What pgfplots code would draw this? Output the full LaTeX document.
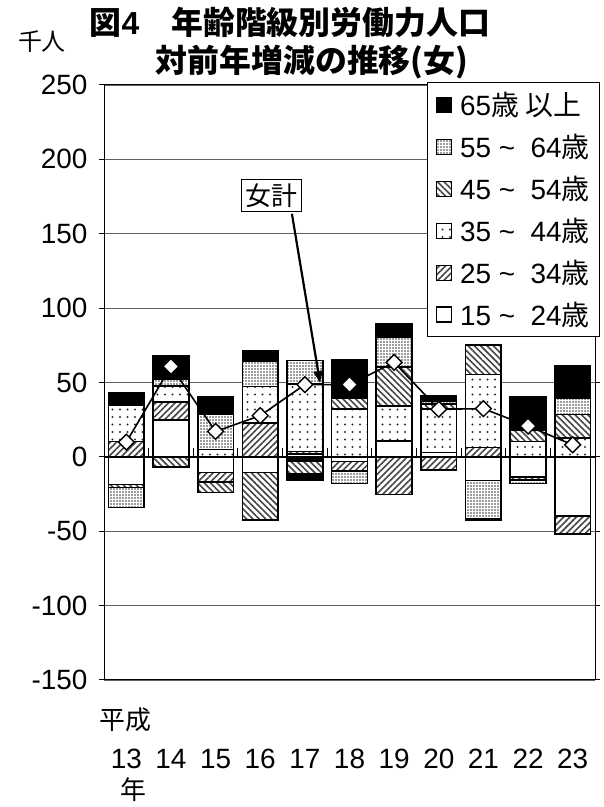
\documentclass[border=0pt]{standalone}
\usepackage{fontspec}
\setmainfont{Liberation Sans}
\newfontfamily\jp{Noto Sans CJK JP}
\usepackage{pgfplots}
\pgfplotsset{compat=1.18}
\usetikzlibrary{patterns.meta,arrows.meta}

% segments above zero, thousand persons (women)
\pgfplotstableread{
x   a1524 a2534 a3544 a4554 a5564 a65
13  0     10.4  24.3  0     0     8.6
14  24.8  11.9  10.8  0     4.5   16.0
15  0     0     5.0   0     23.4  11.7
16  0     22.7  24.6  0     17.1  7.2
17  2.0   1.5   45.3  0     16.1  0
18  0     0     32.0  7.4   0     25.7
19  10.8  0     23.4  26.1  20.3  9.0
20  2.9   0     29.1  3.4   2.2   3.5
21  0     6.3   49.1  19.8  0     0
22  0     0     10.4  7.7   0     22.1
23  0     0     12.6  15.8  10.8  21.8
}\postab
% segments below zero
\pgfplotstableread{
x   b1524 b2534 b3544 b4554 b5564 b65
13  -18.5 0     0     -2.0  -13.5 0
14  0     0     0     -6.8  0     0
15  -10.4 -6.3  0     -7.2  0     0
16  -10.4 0     0     -31.9 0     0
17  -1.3  -1.4  0     -8.5  0     -4.5
18  -3.2  -6.2  0     0     -8.5  0
19  0     -25.2 0     0     0     0
20  0     -8.9  0     0     0     0
21  -15.8 0     0     0     -25.7 -1.4
22  -13.5 -2.0  0     0     -2.5  0
23  -39.9 -11.9 0     0     0     0
}\negtab
% total change (women)
\pgfplotstableread{
x   total
13  9.9
14  60.8
15  17.1
16  27.7
17  48.6
18  48.6
19  63.5
20  32.0
21  32.4
22  20.7
23  8.1
}\tottab

\tikzset{
  s1524/.style={fill=white, draw=black, line width=1.6bp},
  s2534/.style={fill=white, draw=black, line width=1.6bp, postaction={pattern={Lines[angle=45,distance=4.5bp,line width=1.6bp]}, pattern color=gray!55!black}},
  s3544/.style={fill=white, draw=black, line width=1.6bp, postaction={pattern={Dots[distance=7.5bp,radius=1.1bp]}, pattern color=gray!40!black}},
  s4554/.style={fill=white, draw=black, line width=1.6bp, postaction={pattern={Lines[angle=-45,distance=4.5bp,line width=1.6bp]}, pattern color=gray!55!black}},
  s5564/.style={fill=white, draw=black, line width=1.6bp, postaction={pattern={Dots[distance=3bp,radius=0.95bp]}, pattern color=gray!45!black}},
  s65/.style={fill=black, draw=black, line width=1.6bp},
}

\pgfplotsset{
  common/.style={
    at={(104bp,127bp)}, anchor=south west,
    width=491bp, height=595bp, scale only axis,
    xmin=12.5, xmax=23.5, ymin=-150, ymax=250,
  },
}

\begin{document}
\begin{tikzpicture}[x=1bp,y=1bp]
\useasboundingbox (0,0) rectangle (604,807);

% axis 1: frame, grid, ticks, negative segments
\begin{axis}[common,
  ybar stacked, bar width=0.8,
  ytick={-150,-100,-50,0,50,100,150,200,250},
  yticklabels={-150,-100,-50,0,50,100,150,200,250},
  xtick={13,14,15,16,17,18,19,20,21,22,23},
  xticklabels={13,14,15,16,17,18,19,20,21,22,23},
  ticklabel style={font=\fontsize{28}{28}\selectfont},
  xticklabel style={yshift=-61bp},
  yticklabel style={xshift=-8bp},
  x tick style={draw=none},
  y tick style={black, line width=1bp},
  tick align=outside, major tick length=5bp,
  ymajorgrids, grid style={gray!75!black, line width=0.9bp},
  axis line style={black, line width=1bp},
]
\addplot[s1524] table[x=x,y=b1524]{\negtab};
\addplot[s2534] table[x=x,y=b2534]{\negtab};
\addplot[s3544] table[x=x,y=b3544]{\negtab};
\addplot[s4554] table[x=x,y=b4554]{\negtab};
\addplot[s5564] table[x=x,y=b5564]{\negtab};
\addplot[s65] table[x=x,y=b65]{\negtab};
\end{axis}

% axis 2: positive segments and legend
\begin{axis}[common,
  ybar stacked, bar width=0.8,
  axis lines=none,
  reverse legend,
  legend image code/.code={\draw[#1, line width=1.2bp] (0bp,-7.5bp) rectangle (15bp,7.5bp);
    \node[inner sep=0pt, minimum width=21bp, minimum height=1bp, anchor=west, draw=none, fill=none] at (0bp,0bp) {};},
  legend style={at={(1.0102,1.005)}, anchor=north east, draw=black, line width=1bp,
    fill=white, font=\fontsize{28}{28}\selectfont, row sep=13bp,
    inner xsep=8bp, inner ysep=8bp, cells={anchor=west}},
]
\addplot[s1524] table[x=x,y=a1524]{\postab};
\addlegendentry{15 \textasciitilde\ \ 24{\jp 歳}}
\addplot[s2534] table[x=x,y=a2534]{\postab};
\addlegendentry{25 \textasciitilde\ \ 34{\jp 歳}}
\addplot[s3544] table[x=x,y=a3544]{\postab};
\addlegendentry{35 \textasciitilde\ \ 44{\jp 歳}}
\addplot[s4554] table[x=x,y=a4554]{\postab};
\addlegendentry{45 \textasciitilde\ \ 54{\jp 歳}}
\addplot[s5564] table[x=x,y=a5564]{\postab};
\addlegendentry{55 \textasciitilde\ \ 64{\jp 歳}}
\addplot[s65] table[x=x,y=a65]{\postab};
\addlegendentry{65{\jp 歳\ 以上}}
\end{axis}

% axis 3: zero line, total line, annotation
\begin{axis}[common, axis lines=none, clip=false]
\draw[black, line width=1.5bp] (axis cs:12.5,0) -- (axis cs:23.5,0);
\foreach \t in {13.5,14.5,15.5,16.5,17.5,18.5,19.5,20.5,21.5,22.5}{
  \edef\tmp{\noexpand\draw[black, line width=1bp] (axis cs:\t,0) -- (axis cs:\t,6);}\tmp
}
\addplot[black, line width=1.6bp, mark=square*, mark size=5.6bp,
  mark options={fill=white, draw=black, rotate=45, line width=1.4bp}]
  table[x=x,y=total]{\tottab};
\node[draw=black, line width=1bp, fill=white, inner sep=4bp,
  font=\jp\fontsize{26}{26}\selectfont] (lab) at (axis cs:16.26,175.5) {女計};
\draw[-{Triangle[length=12bp,width=9bp]}, black, line width=2.2bp]
  (axis cs:16.71,163.4) -- (axis cs:17.34,49.7);
\end{axis}

% texts outside the axis
\node[font=\jp\bfseries\fontsize{32}{32}\selectfont, anchor=center] at (290,785) {図{\rmfamily\bfseries 4}　年齢階級別労働力人口};
\node[font=\jp\bfseries\fontsize{32}{32}\selectfont, anchor=center] at (312,745) {対前年増減の推移(女)};
\node[font=\jp\fontsize{24}{24}\selectfont] at (42,765) {千人};
\node[font=\jp\fontsize{26}{26}\selectfont] at (125,87) {平成};
\node[font=\jp\fontsize{26}{26}\selectfont] at (133,17) {年};
\end{tikzpicture}
\end{document}
